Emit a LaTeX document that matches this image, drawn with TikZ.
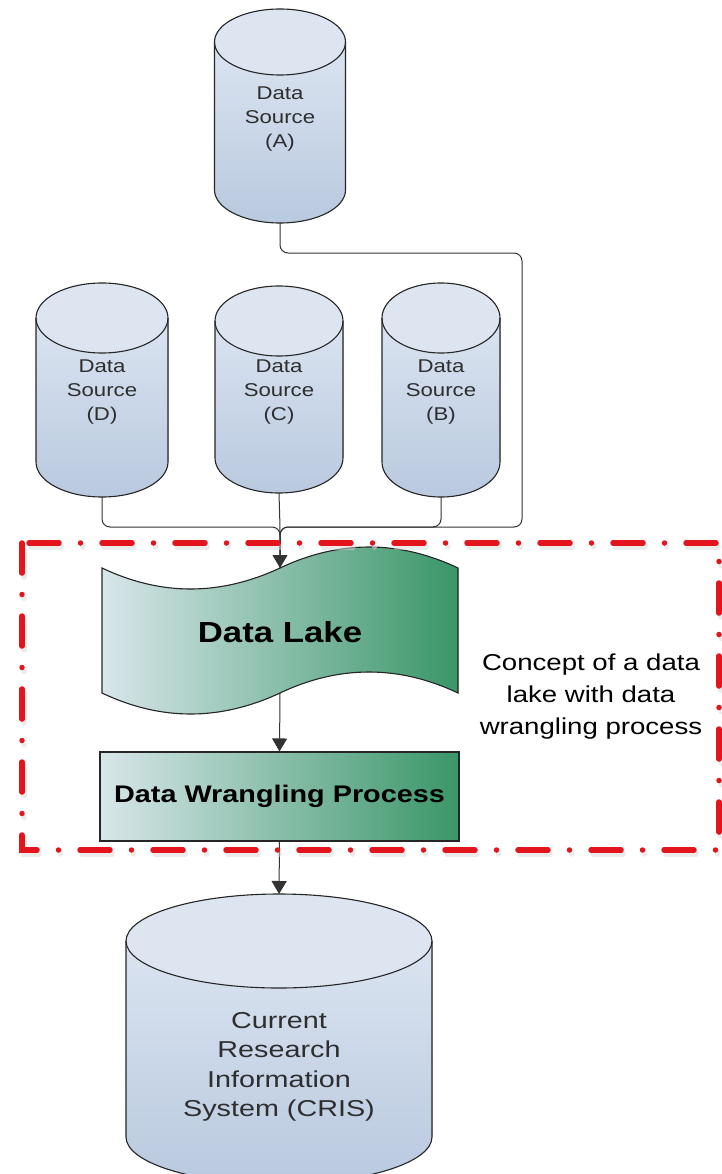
\documentclass[tikz,border=0pt]{standalone}
\usepackage{fontspec}
\setmainfont{Liberation Sans}
\newfontfamily\wfont[FakeStretch=1.2]{Liberation Sans}
\newfontfamily\cfont[FakeStretch=1.25]{Liberation Sans}
\usetikzlibrary{arrows.meta}
\definecolor{bodytop}{HTML}{E1E9F4}
\definecolor{bodybot}{HTML}{B9C9DF}
\definecolor{endfill}{HTML}{DDE5F0}
\definecolor{lakeL}{HTML}{D8E6EA}
\definecolor{lakeR}{HTML}{3A9668}
\definecolor{txtgray}{HTML}{2E2E2E}
\definecolor{linegray}{HTML}{333333}
\definecolor{frame}{HTML}{E3141B}
\tikzset{
  bodyshade/.style={top color=bodytop, bottom color=bodybot},
  endshade/.style={fill=endfill},
  cylline/.style={draw=black!85, line width=1.1pt},
  cylbox/.style={rectangle, inner sep=0pt, outer sep=0pt, draw=none},
  srcfont/.style={font=\wfont\fontsize{18.5}{24}\selectfont, text=txtgray, align=center},
  crisfont/.style={font=\cfont\fontsize{23}{29.5}\selectfont, text=txtgray, align=center},
  conn/.style={draw=linegray, line width=1pt, rounded corners=8pt},
  arr/.style={-{Triangle[width=15pt,length=13pt]}},
  greenbox/.style={left color=lakeL, right color=lakeR, draw=black!85, line width=1.1pt},
  redframe/.style={draw=frame, line width=5.5pt, line cap=round,
     dash pattern=on 30pt off 21.5pt on 0pt off 21.5pt},
}
% name, cx, ytop, ybot, rx, ry, texty, textstyle, text
\newcommand\dbcyl[9]{%
  \fill[bodyshade] ({#2-#5},{#3+#6}) -- ({#2-#5},{#4-#6})
     arc[start angle=180,end angle=360,x radius=#5pt,y radius=#6pt]
     -- ({#2+#5},{#3+#6})
     arc[start angle=0,end angle=180,x radius=#5pt,y radius=#6pt] -- cycle;
  \fill[endshade] (#2,{#3+#6}) ellipse[x radius=#5pt,y radius=#6pt];
  \draw[cylline] ({#2-#5},{#3+#6}) -- ({#2-#5},{#4-#6})
     arc[start angle=180,end angle=360,x radius=#5pt,y radius=#6pt]
     -- ({#2+#5},{#3+#6});
  \draw[cylline] (#2,{#3+#6}) ellipse[x radius=#5pt,y radius=#6pt];
  \node[cylbox, minimum width={2*#5pt}, minimum height={(#4-#3)*1pt}] (#1) at (#2,{(#3+#4)/2}) {};
  \node[#8] (#1t) at (#2,#7) {#9};
}
\begin{document}
\begin{tikzpicture}[x=1pt,y=-1pt]
\useasboundingbox (0,0) rectangle (722,1174);
\clip (0,0) rectangle (722,1174);
\fill[white] (0,0) rectangle (722,1174);

% data sources
\dbcyl{A}{280}{9}{223}{65.5}{33}{119}{srcfont}{Data\\Source\\(A)}
\dbcyl{D}{102}{283}{497}{66}{35}{392}{srcfont}{Data\\Source\\(D)}
\dbcyl{C}{279}{286}{493}{64}{35}{392}{srcfont}{Data\\Source\\(C)}
\dbcyl{B}{441}{283}{497}{59}{35}{392}{srcfont}{Data\\Source\\(B)}

% data lake (tape shape)
\fill[left color=lakeL, right color=lakeR]
  (102,568) .. controls (161,596) and (220,596) .. (280,568)
  .. controls (339,540) and (399,540) .. (458,568)
  -- (458,693)
  .. controls (399,665) and (339,665) .. (280,693)
  .. controls (220,721) and (161,721) .. (102,693) -- cycle;
\draw[draw=black!85, line width=1.1pt]
  (102,568) .. controls (161,596) and (220,596) .. (280,568)
  .. controls (339,540) and (399,540) .. (458,568)
  -- (458,693)
  .. controls (399,665) and (339,665) .. (280,693)
  .. controls (220,721) and (161,721) .. (102,693) -- cycle;
\node[cylbox, minimum width=356pt, minimum height=125pt] (lake) at (280,630.5) {};
\node[font=\wfont\bfseries\fontsize{29}{34}\selectfont, text=black] (laket) at (280,632) {Data Lake};

% wrangling box
\node[greenbox, minimum width=359pt, minimum height=89pt, inner sep=0pt,
      font=\wfont\bfseries\fontsize{24}{28}\selectfont, text=black] (wr) at (279.5,796.5) {Data Wrangling Process};

% CRIS
\dbcyl{cris}{279}{894}{1184}{153}{47}{1067}{crisfont}{Current\\Research\\Information\\System (CRIS)}

% connectors
\coordinate (jA) at (522,253);
\coordinate (jm) at (280,527);
\draw[conn] (A.south) |- (jA) |- (jm) -- (lake.north);
\draw[conn] (D.south) |- (jm) -- (lake.north);
\draw[conn] (B.south) |- (jm) -- (lake.north);
\draw[conn, arr] (C.south) -- (jm) -- (lake.north);
\draw[conn, arr] (lake.south) -- (wr.north);
\draw[conn, arr] (wr.south) -- (cris.north);

% concept label
\node[font=\wfont\fontsize{23}{32}\selectfont, text=black, align=center] (concept) at (591,697)
  {Concept of a data\\lake with data\\wrangling process};

% red dash-dot frame with soft shadow
\draw[redframe, draw=black!15, opacity=0.5] (24,547) rectangle (721,854);
\draw[redframe] (22,543) rectangle (719,850);
\end{tikzpicture}
\end{document}
